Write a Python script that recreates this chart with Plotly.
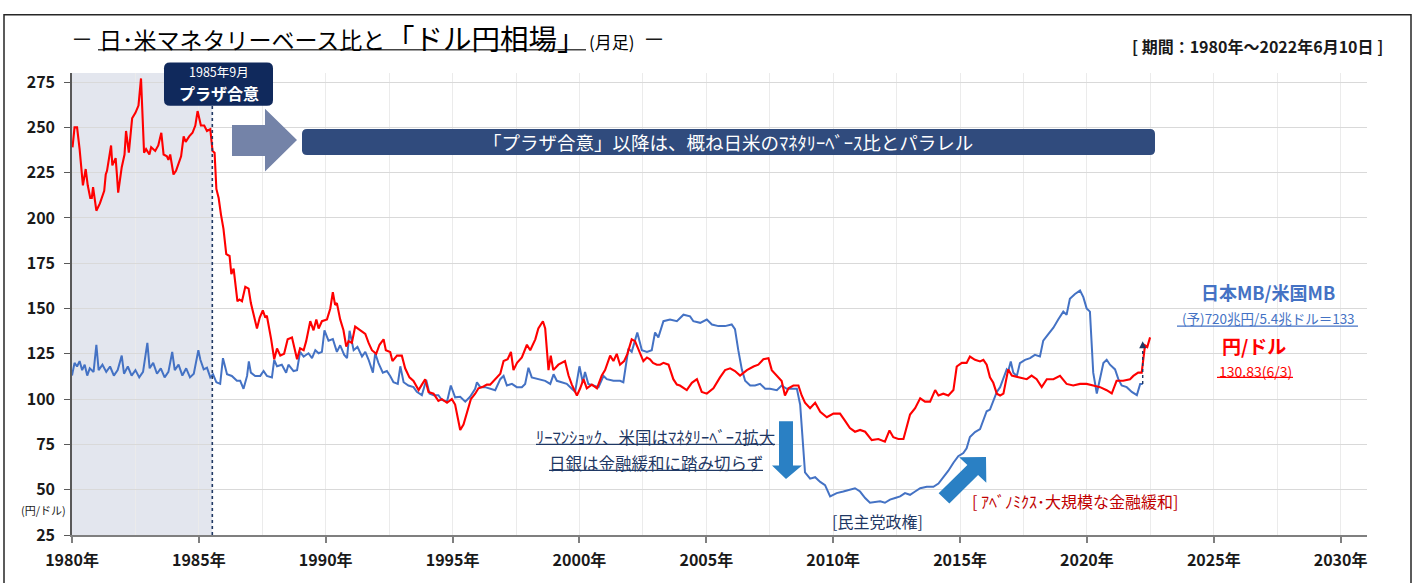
import math
import plotly.graph_objects as go

# ---------------- data ----------------
red_year = [1980.02, 1980.10, 1980.20, 1980.30, 1980.43, 1980.48, 1980.54, 1980.62, 1980.72, 1980.78,
            1980.83, 1980.96, 1981.10, 1981.27, 1981.33, 1981.38, 1981.54, 1981.59, 1981.72, 1981.77,
            1981.82, 1981.96, 1982.07, 1982.13, 1982.24, 1982.37, 1982.50, 1982.62, 1982.72, 1982.84,
            1982.92, 1983.05, 1983.12, 1983.28, 1983.40, 1983.52, 1983.61, 1983.74, 1983.80, 1983.87,
            1984.00, 1984.10, 1984.30, 1984.40, 1984.48, 1984.62, 1984.75, 1984.86, 1984.95, 1985.08,
            1985.21, 1985.32, 1985.45, 1985.54, 1985.62, 1985.69, 1985.78, 1985.87, 1985.97, 1986.08,
            1986.21, 1986.28, 1986.37, 1986.52, 1986.60, 1986.70, 1986.83, 1986.96, 1987.05, 1987.17,
            1987.29, 1987.40, 1987.52, 1987.62, 1987.68, 1987.85, 1987.97, 1988.08, 1988.21, 1988.36,
            1988.50, 1988.67, 1988.87, 1988.99, 1989.13, 1989.23, 1989.39, 1989.52, 1989.63, 1989.72,
            1989.85, 1990.05, 1990.18, 1990.28, 1990.37, 1990.44, 1990.57, 1990.70, 1990.81, 1990.90,
            1991.03, 1991.16, 1991.36, 1991.56, 1991.69, 1991.82, 1991.99, 1992.12, 1992.28, 1992.37,
            1992.54, 1992.63, 1992.81, 1993.00, 1993.13, 1993.30, 1993.46, 1993.66, 1993.79, 1993.92,
            1994.05, 1994.25, 1994.44, 1994.58, 1994.78, 1994.97, 1995.10, 1995.21, 1995.30, 1995.43,
            1995.56, 1995.72, 1995.89, 1996.02, 1996.22, 1996.35, 1996.48, 1996.68, 1996.88, 1997.01,
            1997.17, 1997.30, 1997.40, 1997.54, 1997.73, 1997.93, 1998.06, 1998.26, 1998.38, 1998.56,
            1998.65, 1998.78, 1998.87, 1998.97, 1999.17, 1999.43, 1999.57, 1999.70, 1999.90, 2000.03,
            2000.16, 2000.29, 2000.49, 2000.69, 2000.88, 2001.01, 2001.21, 2001.34, 2001.47, 2001.60,
            2001.76, 2001.89, 2002.06, 2002.19, 2002.33, 2002.52, 2002.66, 2002.78, 2002.90, 2003.05,
            2003.18, 2003.31, 2003.51, 2003.64, 2003.70, 2003.84, 2003.96, 2004.23, 2004.43, 2004.63,
            2004.82, 2005.02, 2005.28, 2005.54, 2005.74, 2005.94, 2006.13, 2006.33, 2006.60, 2006.86,
            2007.05, 2007.25, 2007.45, 2007.58, 2007.78, 2007.97, 2008.10, 2008.24, 2008.43, 2008.63,
            2008.76, 2008.89, 2009.09, 2009.29, 2009.49, 2009.75, 2010.01, 2010.27, 2010.47, 2010.66,
            2010.86, 2011.06, 2011.26, 2011.52, 2011.78, 2012.04, 2012.22, 2012.37, 2012.57, 2012.77,
            2013.03, 2013.23, 2013.43, 2013.62, 2013.82, 2014.02, 2014.15, 2014.34, 2014.54, 2014.74,
            2014.87, 2015.07, 2015.26, 2015.39, 2015.59, 2015.79, 2015.92, 2016.05, 2016.18, 2016.31,
            2016.45, 2016.58, 2016.71, 2016.90, 2017.04, 2017.30, 2017.63, 2017.82, 2018.02, 2018.22,
            2018.42, 2018.68, 2018.94, 2019.20, 2019.46, 2019.73, 2019.99, 2020.25, 2020.52, 2020.78,
            2020.98, 2021.17, 2021.43, 2021.70, 2021.83, 2022.02, 2022.16, 2022.29, 2022.38, 2022.49]
red_val = [239, 250, 250, 238, 218, 222, 227, 218, 211, 211,
           217, 204, 208, 215, 224, 226, 240, 229, 233, 224,
           214, 228, 235, 248, 236, 255, 258, 262, 277, 236,
           238, 235, 239, 237, 240, 247, 235, 234, 232, 235,
           224, 226, 234, 245, 242, 245, 247, 251, 259, 251,
           251, 248, 249, 237, 236, 216, 211, 202, 194, 180,
           179, 169, 172, 154, 155, 154, 162, 161, 153, 146,
           139, 145, 149, 145, 146, 133, 122, 128, 124, 125,
           133, 134, 122, 128, 127, 132, 143, 138, 144, 139,
           143, 144, 150, 159, 152, 153, 144, 138, 129, 132,
           131, 140, 138, 136, 131, 127, 125, 130, 133, 127,
           126, 121, 124, 124, 117, 112, 110, 105, 108, 111,
           104, 103, 99, 100, 98, 100, 97, 88, 83, 86,
           93, 100, 103, 106, 107, 108, 108, 111, 114, 121,
           122, 126, 116, 120, 123, 130, 127, 133, 139, 143,
           139, 116, 124, 116, 119, 121, 113, 108, 102, 106,
           111, 106, 108, 106, 113, 116, 124, 121, 125, 119,
           121, 125, 133, 132, 127, 121, 123, 122, 120, 119,
           119, 120, 119, 114, 111, 108, 107.5, 105, 109, 111,
           104, 103, 106, 112, 116, 117, 115.5, 113, 116, 118,
           119, 122, 122.6, 116, 113, 110, 102, 106, 107.5, 107.5,
           102, 98, 95, 98, 93, 90, 92, 92, 88, 84,
           82, 83, 82, 77.4, 78, 76.5, 82.7, 79, 78, 78,
           91.5, 95, 100.4, 98.6, 98.6, 105, 102, 103, 102, 105,
           118, 120, 120, 123.5, 121.7, 120.8, 121.7, 119, 112, 109,
           103, 102, 103, 116.4, 113, 112, 111, 113, 111, 106.6,
           111, 111, 112.8, 108.4, 107.5, 108.4, 108.4, 107.5, 106.6, 104.9,
           103.1, 110.1, 110.1, 111, 112.8, 114.6, 114.6, 129.7, 128.8, 134.1]

blue_year = [1980.00, 1980.10, 1980.20, 1980.30, 1980.40, 1980.50, 1980.60, 1980.70, 1980.85, 1980.96,
             1981.05, 1981.20, 1981.35, 1981.50, 1981.65, 1981.80, 1981.96, 1982.05, 1982.20, 1982.35,
             1982.50, 1982.65, 1982.80, 1982.97, 1983.06, 1983.20, 1983.35, 1983.50, 1983.65, 1983.80,
             1983.95, 1984.05, 1984.20, 1984.35, 1984.50, 1984.65, 1984.80, 1984.98, 1985.06, 1985.19,
             1985.32, 1985.45, 1985.56, 1985.69, 1985.84, 1985.95, 1986.11, 1986.30, 1986.50, 1986.63,
             1986.76, 1986.90, 1986.97, 1987.05, 1987.22, 1987.42, 1987.55, 1987.68, 1987.88, 1987.97,
             1988.08, 1988.27, 1988.44, 1988.53, 1988.73, 1988.87, 1988.99, 1989.13, 1989.32, 1989.46,
             1989.59, 1989.72, 1989.85, 1989.95, 1990.11, 1990.28, 1990.44, 1990.57, 1990.73, 1990.84,
             1990.94, 1991.10, 1991.25, 1991.43, 1991.56, 1991.69, 1991.86, 1991.95, 1992.08, 1992.25,
             1992.41, 1992.54, 1992.67, 1992.84, 1992.94, 1993.07, 1993.26, 1993.46, 1993.59, 1993.79,
             1993.96, 1994.09, 1994.25, 1994.44, 1994.58, 1994.78, 1994.93, 1995.10, 1995.30, 1995.50,
             1995.69, 1995.89, 1995.96, 1996.09, 1996.28, 1996.48, 1996.68, 1996.88, 1997.01, 1997.14,
             1997.34, 1997.53, 1997.73, 1997.86, 1997.99, 1998.12, 1998.38, 1998.65, 1998.85, 1998.98,
             1999.11, 1999.31, 1999.50, 1999.70, 1999.83, 2000.00, 2000.13, 2000.22, 2000.35, 2000.55,
             2000.75, 2000.95, 2001.08, 2001.34, 2001.60, 2001.73, 2001.93, 2002.06, 2002.28, 2002.46,
             2002.66, 2002.85, 2002.98, 2003.11, 2003.31, 2003.57, 2003.84, 2004.10, 2004.36, 2004.49,
             2004.76, 2005.02, 2005.22, 2005.48, 2005.74, 2006.00, 2006.13, 2006.26, 2006.40, 2006.53,
             2006.73, 2006.92, 2007.12, 2007.32, 2007.51, 2007.78, 2007.97, 2008.17, 2008.37, 2008.57,
             2008.70, 2008.80, 2008.89, 2009.09, 2009.29, 2009.49, 2009.68, 2009.88, 2010.14, 2010.40,
             2010.66, 2010.86, 2011.06, 2011.26, 2011.45, 2011.65, 2011.85, 2012.04, 2012.24, 2012.44,
             2012.64, 2012.83, 2013.03, 2013.23, 2013.43, 2013.69, 2013.95, 2014.15, 2014.34, 2014.54,
             2014.74, 2014.93, 2015.13, 2015.26, 2015.39, 2015.59, 2015.79, 2015.92, 2016.05, 2016.18,
             2016.31, 2016.45, 2016.58, 2016.71, 2016.84, 2016.90, 2017.00, 2017.10, 2017.24, 2017.36,
             2017.56, 2017.76, 2017.95, 2018.15, 2018.28, 2018.48, 2018.68, 2018.87, 2019.07, 2019.20,
             2019.33, 2019.53, 2019.73, 2019.86, 2019.99, 2020.12, 2020.25, 2020.39, 2020.52, 2020.65,
             2020.78, 2020.91, 2021.11, 2021.24, 2021.37, 2021.57, 2021.77, 2021.97, 2022.10, 2022.20]
blue_val = [113, 120, 118, 121, 116, 119, 113, 117, 115, 130,
            116, 119, 115, 118, 113, 116, 124, 114, 118, 113,
            116, 112, 115, 131, 117, 120, 114, 117, 112, 115,
            126, 116, 119, 113, 117, 112, 114, 127, 121.7, 116.4,
            117.3, 112, 113.7, 109.3, 108.4, 122.6, 113.7, 112.8, 110.1, 110.1,
            105.7, 112.8, 120.8, 114.6, 112.8, 112.8, 115.5, 112.8, 112, 121.7,
            118.1, 119, 114.6, 119, 115.5, 116, 126.1, 123.5, 125.3, 122.6,
            127, 125.3, 126.1, 138, 132.3, 133.2, 126.1, 129.7, 124.4, 122.6,
            137.7, 127, 128.8, 123.5, 126.1, 121.7, 114.6, 125.3, 119.9, 114.6,
            115.5, 112.8, 109.3, 108.4, 118.1, 109.3, 107.5, 106.6, 104, 102.2,
            110.5, 103.1, 102.2, 102.2, 99.5, 98.6, 107.5, 101, 101.3, 98.6,
            101.3, 105.7, 109.3, 106.6, 106.6, 105.7, 104.9, 111, 112.8, 107.5,
            108.4, 106.6, 106.6, 108.4, 117.3, 112, 111, 110.1, 108.4, 113.7,
            110.1, 109.3, 108.4, 105.7, 104, 118.1, 109.3, 115, 108.4, 107.5,
            106.6, 112.8, 111, 110.1, 110.1, 109.3, 127.9, 126.1, 136.8, 127,
            126.1, 127, 136.8, 134.1, 143, 143.9, 143, 146.6, 145.7, 143,
            142.1, 143.9, 141.2, 140.3, 140.3, 141.2, 138.6, 127, 116.4, 110.1,
            107.5, 107.5, 108.4, 105.7, 105.7, 104.9, 107.5, 105.7, 105.7, 105.7,
            96.8, 73.8, 59.6, 56.1, 56.9, 54.3, 52.5, 46.3, 48.1, 49,
            49.9, 50.8, 49, 45.4, 42.8, 43.3, 43.6, 42.8, 44.5, 45.4,
            46.3, 48.1, 47.2, 49, 50.8, 51.6, 51.6, 53.4, 56.9, 60.5,
            64.9, 68.5, 70.2, 72.9, 79.1, 81.8, 83.5, 88, 93.3, 94.2,
            98.6, 104, 106.6, 112, 116.4, 115.5, 120.8, 114.6, 112.8, 119.9,
            121.7, 122.6, 124.4, 123.5, 132.3, 135.9, 139.4, 143.9, 148.3, 146.6,
            155.4, 158, 159.9, 156.3, 150.1, 148.3, 114.6, 103.1, 111, 119.9,
            121.7, 119, 116.4, 111, 107.5, 106.6, 104, 102.2, 108.4, 108.4]

x_tick_years = [1980, 1985, 1990, 1995, 2000, 2005, 2010, 2015, 2020, 2025, 2030]
x_tick_text = [f"{y}年" for y in x_tick_years]
y_ticks = [25, 50, 75, 100, 125, 150, 175, 200, 225, 250, 275]

plaza_year = 1985.53        # dotted line "プラザ合意"
mb_last_year = 2022.2       # end of the MB ratio series
mb_last_val = 108.4
mb_forecast_val = 133       # (予)720兆円/5.4兆ドル＝133

# ---------------- layout helpers (pixel -> paper) ----------------
W, H = 1419, 583
L, R, T, B = 72, 1367, 73, 552
FONT = "Noto Sans CJK JP"
NAVY = "#1f3864"
MB_BLUE = "#4472c4"
ARROW_BLUE = "#2a80c4"


def px(x):
    return (x - L) / (R - L)


def py(y):
    return (B - y) / (B - T)


def poly(points):
    return "M " + " L ".join(f"{px(x):.5f},{py(y):.5f}" for x, y in points) + " Z"


def rrect(x0, y0, x1, y1, r):
    P = lambda x, y: f"{px(x):.5f},{py(y):.5f}"
    return (f"M {P(x0 + r, y0)} L {P(x1 - r, y0)} Q {P(x1, y0)} {P(x1, y0 + r)} "
            f"L {P(x1, y1 - r)} Q {P(x1, y1)} {P(x1 - r, y1)} L {P(x0 + r, y1)} "
            f"Q {P(x0, y1)} {P(x0, y1 - r)} L {P(x0, y0 + r)} Q {P(x0, y0)} {P(x0 + r, y0)} Z")


shapes = []
annotations = []


def text(t, x, y, size, color="#1a1a1a", bold=False, xanchor="center"):
    annotations.append(dict(text=f"<b>{t}</b>" if bold else t, x=px(x), y=py(y),
                            xref="paper", yref="paper", showarrow=False,
                            xanchor=xanchor, yanchor="middle",
                            font=dict(family=FONT, size=size, color=color)))


def hline(x0, x1, y, color, width=1.3):
    shapes.append(dict(type="line", xref="paper", yref="paper", x0=px(x0), x1=px(x1),
                       y0=py(y), y1=py(y), line=dict(color=color, width=width)))


fig = go.Figure()
fig.add_trace(go.Scatter(x=blue_year, y=blue_val, mode="lines", name="日本MB/米国MB",
                         line=dict(color=MB_BLUE, width=2)))
fig.add_trace(go.Scatter(x=red_year, y=red_val, mode="lines", name="円/ドル",
                         line=dict(color="#ff0000", width=2.1)))

# shaded pre-Plaza period
shapes.append(dict(type="rect", xref="x", yref="paper", x0=1980, x1=plaza_year, y0=0, y1=1,
                   fillcolor="#e3e6ee", line=dict(width=0), layer="below"))
# dotted Plaza line
shapes.append(dict(type="line", xref="x", yref="paper", x0=plaza_year, x1=plaza_year, y0=0, y1=1,
                   line=dict(color=NAVY, width=1.6, dash="dot")))
# dotted forecast arrow at end
shapes.append(dict(type="line", xref="x", yref="y", x0=mb_last_year, x1=mb_last_year,
                   y0=mb_last_val, y1=mb_forecast_val - 3, line=dict(color=NAVY, width=1.4, dash="dot")))
annotations.append(dict(x=mb_last_year, y=mb_forecast_val - 1, xref="x", yref="y", ax=0, ay=7,
                        text="", showarrow=True, arrowhead=2, arrowsize=1, arrowwidth=1.4,
                        arrowcolor=NAVY))

# outer frame
shapes.append(dict(type="rect", xref="paper", yref="paper", x0=px(4), x1=px(1411), y0=py(12.5), y1=py(640),
                   line=dict(color="#262626", width=1.5), fillcolor="rgba(0,0,0,0)"))

# Plaza box
shapes.append(dict(type="path", xref="paper", yref="paper", path=rrect(164, 62, 273, 107, 6),
                   fillcolor="#10295c", line=dict(width=0)))
text("1985年9月", 218.5, 71.5, 12.5, "white")
text("プラザ合意", 218.5, 93.5, 16, "white", bold=True)

# grey right arrow
shapes.append(dict(type="path", xref="paper", yref="paper",
                   path=poly([(232, 127), (265, 127), (265, 110), (297, 142.5), (265, 175), (265, 159), (232, 159)]),
                   fillcolor="#7483a8", line=dict(width=0)))

# banner
shapes.append(dict(type="path", xref="paper", yref="paper", path=rrect(302, 131, 1155, 158, 5),
                   fillcolor="#304b7d", line=dict(width=0)))
text("「プラザ合意」以降は、概ね日米のﾏﾈﾀﾘｰﾍﾞｰｽ比とパラレル", 728, 144.5, 18.5, "white")

# down arrow (Lehman)
shapes.append(dict(type="path", xref="paper", yref="paper",
                   path=poly([(779, 434), (793, 434), (793, 480), (802, 480), (786, 494), (772, 480), (779, 480)]),
                   fillcolor=ARROW_BLUE, line=dict(width=0)))

# diagonal arrow (Abenomics)
tx, ty = 944, 514
hx, hy = 986, 471
dx, dy = hx - tx, hy - ty
ln = math.hypot(dx, dy)
ux, uy = dx / ln, dy / ln
nx, ny = -uy, ux
bw, hw, hl = 7.5, 19, 19
bx, by = hx - hl * ux, hy - hl * uy
pts = [(tx + bw * nx, ty + bw * ny), (bx + bw * nx, by + bw * ny), (bx + hw * nx, by + hw * ny),
       (hx, hy), (bx - hw * nx, by - hw * ny), (bx - bw * nx, by - bw * ny), (tx - bw * nx, ty - bw * ny)]
shapes.append(dict(type="path", xref="paper", yref="paper", path=poly(pts),
                   fillcolor=ARROW_BLUE, line=dict(width=0)))

# title
text("－", 82, 36, 22, "#1a1a1a")
text("日･米マネタリーベース比と", 97, 37.5, 23, "#000000", xanchor="left")
text("「ドル円相場」", 384, 36, 28.5, "#000000", xanchor="left")
text("(月足)", 612, 40, 17, "#000000")
text("－", 654, 36, 22, "#1a1a1a")
hline(98, 586, 49, "#444444", 1.5)

text("[ 期間：1980年～2022年6月10日 ]", 1257, 45, 16, "#1a1a1a", bold=True)

# right labels
text("日本MB/米国MB", 1268, 300, 18, MB_BLUE, bold=True)
text("(予)720兆円/5.4兆ドル＝133", 1268, 327.5, 13.5, MB_BLUE)
hline(1177, 1358, 335.5, MB_BLUE, 1.2)
text("円/ドル", 1254, 356, 19, "#ff0000", bold=True)
text("130.83(6/3)", 1255, 381.5, 14, "#ff0000")
hline(1217, 1293, 388.5, "#ff0000", 1.2)

# Lehman annotations
text("ﾘｰﾏﾝｼｮｯｸ、米国はﾏﾈﾀﾘｰﾍﾞｰｽ拡大", 655.5, 450.5, 16.5, NAVY)
hline(536, 775, 458, NAVY, 1.2)
text("日銀は金融緩和に踏み切らず", 656, 477.5, 16.5, NAVY)
hline(549, 763, 485, NAVY, 1.2)

text("[民主党政権]", 877, 538, 16, NAVY)
text("[ ｱﾍﾞﾉﾐｸｽ･大規模な金融緩和]", 1075, 517, 16, "#c00000")

text("(円/ドル)", 43, 526, 11, "#1a1a1a")

fig.update_layout(
    width=W, height=H, autosize=False,
    margin=dict(l=L, r=W - R, t=T, b=H - B, pad=0),
    plot_bgcolor="white", paper_bgcolor="white",
    showlegend=False,
    font=dict(family=FONT, color="#1a1a1a"),
    shapes=shapes, annotations=annotations,
    xaxis=dict(range=[1980, 2031.04], tickmode="array", tickvals=x_tick_years, ticktext=x_tick_text,
               showgrid=True, gridcolor="#ebebeb", gridwidth=1,
               minor=dict(tickmode="linear", tick0=1980, dtick=2.5, showgrid=True, gridcolor="#ebebeb", ticks=""),
               showline=True, linecolor="#7f7f7f", linewidth=2.2,
               ticks="outside", ticklen=6, tickwidth=1.5, tickcolor="#7f7f7f",
               ticklabelstandoff=4,
               tickfont=dict(family=FONT, size=16, color="#1a1a1a", weight="bold"),
               zeroline=False, fixedrange=True),
    yaxis=dict(range=[25, 280], tickmode="array", tickvals=y_ticks,
               showgrid=True, gridcolor="#d9d9d9", gridwidth=1,
               showline=True, linecolor="#595959", linewidth=1.5,
               ticks="outside", ticklen=6, tickwidth=1.2, tickcolor="#595959",
               ticklabelstandoff=6,
               tickfont=dict(family=FONT, size=16, color="#1a1a1a", weight="bold"),
               zeroline=False, fixedrange=True),
)

fig.write_html("out.html", config={"displayModeBar": False},
               post_script="document.body.style.margin='0px';document.body.style.overflow='hidden';")
